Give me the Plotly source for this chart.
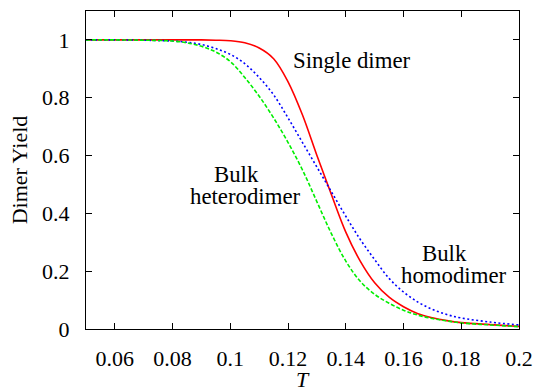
import plotly.graph_objects as go

T = [0.05, 0.06, 0.07, 0.08, 0.085, 0.09, 0.095, 0.1, 0.105, 0.11, 0.115, 0.12,
     0.125, 0.13, 0.135, 0.14, 0.145, 0.15, 0.155, 0.16, 0.165, 0.17, 0.175,
     0.18, 0.19, 0.2]

single_dimer = [1.0, 1.0, 1.0, 1.0, 1.0, 1.0, 0.999, 0.997, 0.99, 0.972, 0.935, 0.855,
                0.74, 0.6, 0.465, 0.335, 0.235, 0.16, 0.11, 0.077, 0.053, 0.039, 0.029,
                0.022, 0.015, 0.009]

bulk_homodimer = [1.0, 1.0, 0.999, 0.996, 0.992, 0.984, 0.97, 0.95, 0.918, 0.87, 0.81, 0.73,
                  0.645, 0.56, 0.475, 0.39, 0.31, 0.24, 0.175, 0.128, 0.093, 0.068, 0.05,
                  0.038, 0.024, 0.014]

bulk_heterodimer = [1.0, 1.0, 0.999, 0.996, 0.99, 0.978, 0.958, 0.925, 0.87, 0.805, 0.73, 0.645,
                    0.55, 0.44, 0.33, 0.235, 0.165, 0.12, 0.089, 0.065, 0.048, 0.036, 0.028,
                    0.021, 0.014, 0.008]

x_ticks = [0.06, 0.08, 0.1, 0.12, 0.14, 0.16, 0.18, 0.2]
x_ticktext = ["0.06", "0.08", "0.1", "0.12", "0.14", "0.16", "0.18", "0.2"]
y_ticks = [0, 0.2, 0.4, 0.6, 0.8, 1.0]
y_ticktext = ["0", "0.2", "0.4", "0.6", "0.8", "1"]

FONT = "Liberation Serif, Times New Roman, Times, serif"
FS = 22
AFS = 22.8

fig = go.Figure()
fig.add_trace(go.Scatter(x=T, y=single_dimer, mode="lines", line_shape="spline",
                         line=dict(color="#ff0000", width=1.6), name="Single dimer"))
fig.add_trace(go.Scatter(x=T, y=bulk_homodimer, mode="lines", line_shape="spline",
                         line=dict(color="#0000ff", width=1.6, dash="2px,2.5px"), name="Bulk homodimer"))
fig.add_trace(go.Scatter(x=T, y=bulk_heterodimer, mode="lines", line_shape="spline",
                         line=dict(color="#00ee00", width=1.6, dash="4px,2px"), name="Bulk heterodimer"))

axis_common = dict(showline=True, linecolor="black", linewidth=1.2, mirror="allticks",
                   ticks="inside", ticklen=6, tickcolor="black", tickwidth=1,
                   showgrid=False, zeroline=False,
                   tickfont=dict(family=FONT, size=FS, color="black"))

fig.update_xaxes(range=[0.05, 0.2], tickvals=x_ticks, ticktext=x_ticktext,
                 ticklabelstandoff=9, **axis_common)
fig.update_yaxes(range=[0, 1.1], tickvals=y_ticks, ticktext=y_ticktext,
                 title=dict(text="Dimer Yield", font=dict(family=FONT, size=FS, color="black"),
                            standoff=8),
                 ticklabelstandoff=11, **axis_common)

# x-axis title placed below the tick labels
fig.add_annotation(x=0.5, y=-0.2, xref="paper", yref="paper", text="<i>T</i>",
                   showarrow=False, font=dict(family=FONT, size=FS, color="black"),
                   xanchor="center", yanchor="bottom", borderpad=0)

ann_font = dict(family=FONT, size=AFS, color="black")
labels = [
    ("Single dimer", 0.1423, 0.93),
    ("Bulk", 0.1021, 0.536),
    ("heterodimer", 0.1051, 0.46),
    ("Bulk", 0.1742, 0.262),
    ("homodimer", 0.1776, 0.185),
]
for text, xx, yy in labels:
    fig.add_annotation(x=xx, y=yy, text=text, showarrow=False, font=ann_font,
                       xanchor="center", yanchor="middle")

fig.update_layout(width=543, height=387, margin=dict(l=86, r=19, t=10, b=58),
                  plot_bgcolor="white", paper_bgcolor="white", showlegend=False)

fig.write_html("out.html")
